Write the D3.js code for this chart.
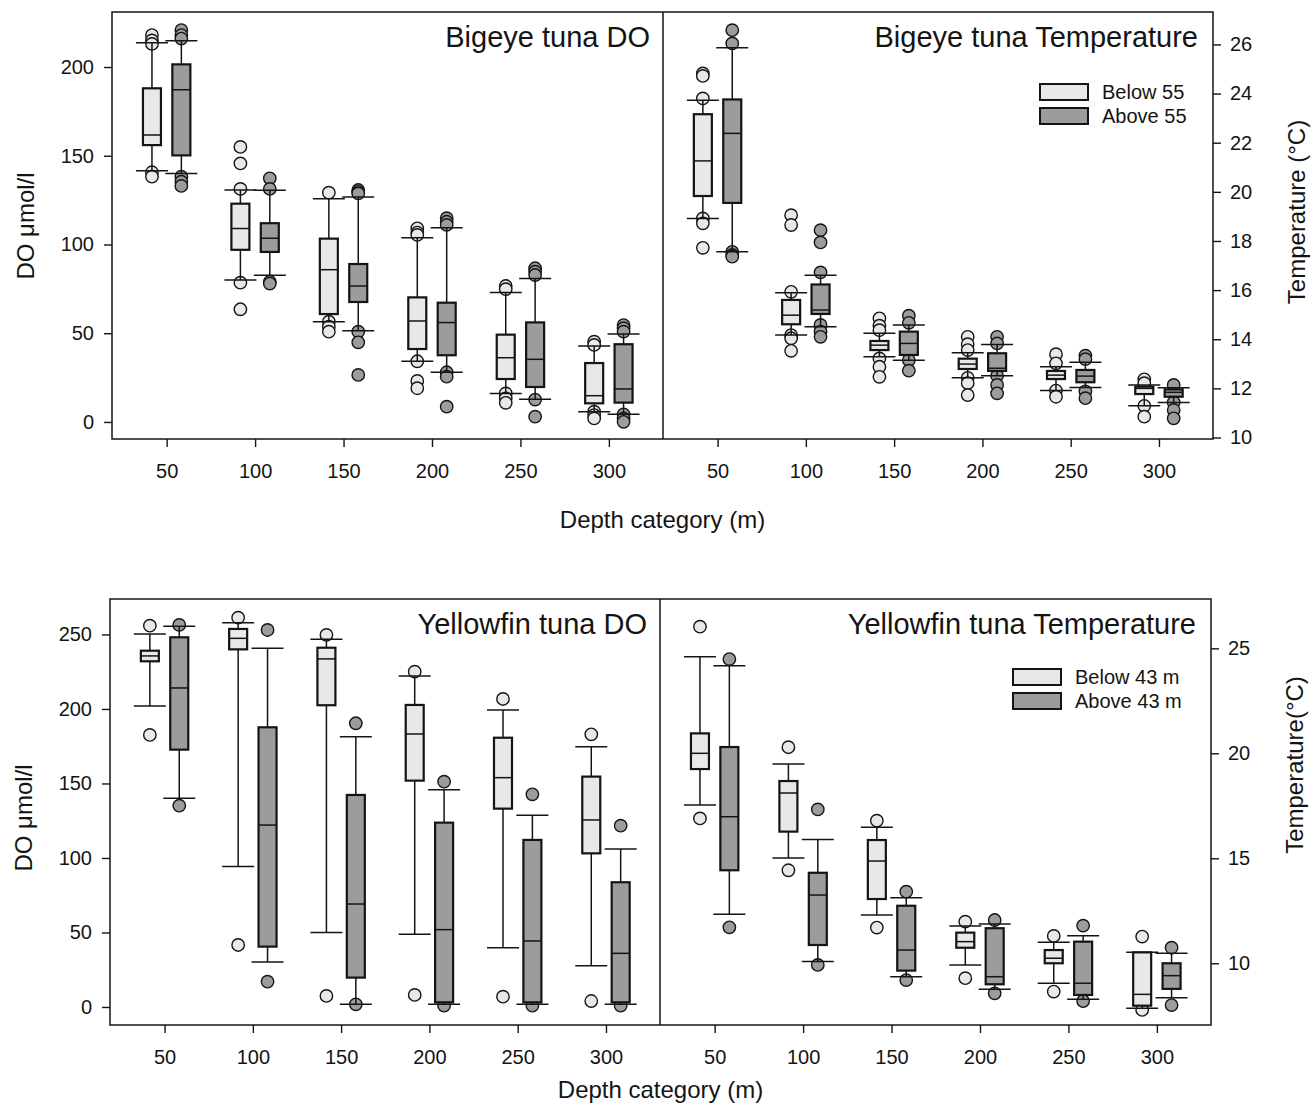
<!DOCTYPE html>
<html>
<head>
<meta charset="utf-8">
<script src="https://cdn.jsdelivr.net/npm/d3@7"></script>
<style>
  body { margin: 0; background: #fff; }
  svg { font-family: "Liberation Sans", Arial, sans-serif; }
</style>
</head>
<body>
<div id="chart"></div>
<script>
// depth categories (m)
const depths = [50, 100, 150, 200, 250, 300];

// box stats per depth: [lower whisker, q1, median, q3, upper whisker]
const bigeyeDoBelow = [
  [141.6, 156, 161.7, 188, 213.7], [80, 97, 109, 123, 130.7], [56.5, 60.8, 85.8, 103.3, 125.8],
  [34.2, 41.1, 56.9, 70.2, 103.8], [16.1, 24.2, 36.2, 49.2, 72.9], [5.8, 10.5, 14.8, 33.2, 42.8]
];
const bigeyeDoBelowOut = [
  [218, 215, 213, 140.7, 138.2], [155, 145.7, 131.3, 78.5, 63.5], [129.2, 56.5, 53.7, 50.9],
  [109.1, 106.7, 105.4, 34.2, 23.1, 19.0], [76.6, 74.8, 16.1, 13.3, 10.8], [45.2, 43.4, 5.8, 3.9, 2.0]
];
const bigeyeDoAbove = [
  [140, 150.2, 187.2, 201.5, 214.8], [82.6, 95.8, 103.5, 112, 130.5], [51.4, 67.6, 76.6, 89, 126.8],
  [28, 37.6, 56, 67.2, 109.5], [12.8, 19.7, 35.3, 56.1, 80.9], [4.3, 10.9, 18.6, 43.8, 49.6]
];
const bigeyeDoAboveOut = [
  [220.8, 218, 216, 138.2, 135.4, 133], [137.3, 131.3, 79, 78], [130.7, 129.7, 128.8, 50.9, 44.9, 26.5],
  [114.8, 112.8, 111, 28, 25.5, 8.6], [86.6, 84.7, 82.8, 12.6, 3], [54.6, 52.8, 50.9, 4.3, 2.0, 0.1]
];

const bigeyeTempBelow = [
  [18.92, 19.83, 21.26, 23.16, 23.73], [14.17, 14.61, 14.98, 15.60, 15.89], [13.29, 13.56, 13.76, 13.93, 14.24],
  [12.43, 12.79, 12.99, 13.21, 13.45], [11.91, 12.38, 12.54, 12.71, 12.88], [11.29, 11.77, 12.00, 12.07, 12.14]
];
const bigeyeTempBelowOut = [
  [24.82, 24.72, 23.80, 18.92, 18.72, 17.72], [19.05, 18.65, 15.93, 14.17, 14.04, 13.53],
  [14.85, 14.55, 14.37, 13.22, 12.88, 12.47], [14.10, 13.80, 13.56, 12.43, 12.21, 11.73],
  [13.39, 13.02, 11.91, 11.66], [12.37, 12.21, 11.29, 10.85]
];
const bigeyeTempAbove = [
  [17.56, 19.55, 22.38, 23.76, 25.86], [14.51, 15.03, 15.19, 16.23, 16.61], [13.15, 13.36, 13.83, 14.31, 14.58],
  [12.51, 12.71, 12.82, 13.43, 13.79], [12.04, 12.25, 12.50, 12.75, 13.06], [11.43, 11.66, 11.84, 11.96, 12.03]
];
const bigeyeTempAboveOut = [
  [26.58, 26.04, 17.56, 17.43, 17.36], [18.44, 17.94, 16.72, 14.58, 14.31, 14.10], [14.96, 14.67, 13.15, 12.72],
  [14.10, 13.83, 12.51, 12.14, 11.80], [13.33, 13.19, 11.88, 11.60], [12.14, 11.43, 11.12, 10.78]
];

const yellowfinDoBelow = [
  [202, 232, 235.6, 239.1, 250.3], [94.2, 240, 247.4, 253.7, 257.9], [49.9, 202.5, 233.6, 241.1, 246.8],
  [48.8, 151.9, 183.2, 202.7, 222.1], [39.8, 133.1, 153.9, 180.7, 199.3], [27.7, 103.1, 125.5, 154.6, 174.7]
];
const yellowfinDoBelowOut = [[255.9, 182.6], [261.3, 41.6], [249.7, 7.4], [225, 8.1], [206.7, 6.9], [183, 4.0]];
const yellowfinDoAbove = [
  [140.1, 172.7, 214.1, 248.1, 255.5], [30.2, 40.5, 122.1, 187.7, 240.8], [1.8, 19.7, 69.1, 142.3, 181.4],
  [1.8, 3.1, 51.9, 123.7, 145.8], [1.8, 3.1, 44.3, 112.1, 128.6], [1.8, 3.1, 36, 83.7, 106]
];
const yellowfinDoAboveOut = [[256.4, 135.1], [253, 17], [190.4, 1.8], [151.2, 0.9], [142.7, 0.9], [121.7, 0.9]];

const yellowfinTempBelow = [
  [17.54, 19.25, 20.0, 20.95, 24.60], [15.01, 16.27, 18.11, 18.68, 19.49], [12.30, 13.06, 14.87, 15.87, 16.48],
  [9.92, 10.74, 11.03, 11.46, 11.78], [9.05, 10.0, 10.24, 10.63, 11.0], [7.86, 7.98, 8.52, 10.52, 10.52]
];
const yellowfinTempBelowOut = [[26.03, 16.90], [20.29, 14.43], [16.79, 11.70], [11.98, 9.29], [11.30, 8.65], [11.27, 7.78]];
const yellowfinTempAbove = [
  [12.33, 14.43, 16.98, 20.30, 24.17], [10.08, 10.87, 13.25, 14.31, 15.90], [9.36, 9.65, 10.63, 12.74, 13.12],
  [8.76, 9.0, 9.36, 11.67, 11.87], [8.29, 8.49, 9.05, 11.03, 11.31], [8.36, 8.78, 9.41, 10.0, 10.48]
];
const yellowfinTempAboveOut = [[24.49, 11.71], [17.33, 9.92], [13.41, 9.20], [12.06, 8.57], [11.79, 8.2], [10.74, 8.01]];

const doTicksTop = [0, 50, 100, 150, 200];
const tempTicksTop = [10, 12, 14, 16, 18, 20, 22, 24, 26];
const doTicksBottom = [0, 50, 100, 150, 200, 250];
const tempTicksBottom = [10, 15, 20, 25];

const lightFill = "#e7e8e8", darkFill = "#9b9c9c", ink = "#141414";

const svg = d3.select("#chart").append("svg")
  .attr("width", 1311)
  .attr("height", 1113);

// draw one set of boxes (one colour) for a panel
function drawBoxes(g, x, y, stats, outs, offset, fill) {
  const rows = stats.map((s, i) => ({ d: depths[i], lo: s[0], q1: s[1], med: s[2], q3: s[3], hi: s[4] }));
  const pts = outs.flatMap((arr, i) => arr.map(v => ({ d: depths[i], v: v })));
  const cx = d => x(d.d) + offset;

  g.append("g").selectAll("circle")
    .data(pts)
    .join("circle")
    .attr("cx", cx)
    .attr("cy", d => y(d.v))
    .attr("r", 6.2)
    .attr("fill", fill)
    .attr("stroke", ink)
    .attr("stroke-width", 1.4);

  g.append("g").selectAll("line")
    .data(rows)
    .join("line")
    .attr("x1", cx).attr("x2", cx)
    .attr("y1", d => y(d.lo)).attr("y2", d => y(d.hi))
    .attr("stroke", ink).attr("stroke-width", 1.5);

  const caps = rows.flatMap(r => [{ d: r.d, v: r.lo }, { d: r.d, v: r.hi }]);
  g.append("g").selectAll("line")
    .data(caps)
    .join("line")
    .attr("x1", d => cx(d) - 16).attr("x2", d => cx(d) + 16)
    .attr("y1", d => y(d.v)).attr("y2", d => y(d.v))
    .attr("stroke", ink).attr("stroke-width", 1.5);

  g.append("g").selectAll("rect")
    .data(rows)
    .join("rect")
    .attr("x", d => cx(d) - 9)
    .attr("width", 18)
    .attr("y", d => y(d.q3))
    .attr("height", d => y(d.q1) - y(d.q3))
    .attr("fill", fill)
    .attr("stroke", ink).attr("stroke-width", 2.2);

  g.append("g").selectAll("line")
    .data(rows)
    .join("line")
    .attr("x1", d => cx(d) - 9).attr("x2", d => cx(d) + 9)
    .attr("y1", d => y(d.med)).attr("y2", d => y(d.med))
    .attr("stroke", ink).attr("stroke-width", 1.5);
}

function styleAxis(sel) {
  sel.select(".domain").remove();
  sel.selectAll("line").attr("stroke", ink).attr("stroke-width", 1.4);
  sel.selectAll("text").attr("font-size", 20).attr("fill", ink).attr("font-family", "Liberation Sans, Arial, sans-serif");
}

function drawFigure(o) {
  const g = svg.append("g");
  const xL = d3.scaleLinear().domain([19.1, 330.6]).range([o.left, o.mid]);
  const xR = d3.scaleLinear().domain([19.1, 330.6]).range([o.mid, o.right]);
  const yL = d3.scaleLinear().domain(o.doDomain).range([o.bottom, o.top]);
  const yR = d3.scaleLinear().domain(o.tempDomain).range([o.bottom, o.top]);

  drawBoxes(g, xL, yL, o.doBelow, o.doBelowOut, -14.7, lightFill);
  drawBoxes(g, xL, yL, o.doAbove, o.doAboveOut, 14.7, darkFill);
  drawBoxes(g, xR, yR, o.tempBelow, o.tempBelowOut, -14.7, lightFill);
  drawBoxes(g, xR, yR, o.tempAbove, o.tempAboveOut, 14.7, darkFill);

  // frame + divider
  g.append("rect")
    .attr("x", o.left).attr("y", o.top)
    .attr("width", o.right - o.left).attr("height", o.bottom - o.top)
    .attr("fill", "none").attr("stroke", ink).attr("stroke-width", 1.5);
  g.append("line")
    .attr("x1", o.mid).attr("x2", o.mid).attr("y1", o.top).attr("y2", o.bottom)
    .attr("stroke", ink).attr("stroke-width", 1.5);

  g.append("g").attr("transform", `translate(${o.left},0)`)
    .call(d3.axisLeft(yL).tickValues(o.doTicks).tickSize(8).tickPadding(10))
    .call(styleAxis);
  g.append("g").attr("transform", `translate(${o.right},0)`)
    .call(d3.axisRight(yR).tickValues(o.tempTicks).tickSize(8).tickPadding(9))
    .call(styleAxis);
  g.append("g").attr("transform", `translate(0,${o.bottom})`)
    .call(d3.axisBottom(xL).tickValues(depths).tickSize(8).tickPadding(17))
    .call(styleAxis);
  g.append("g").attr("transform", `translate(0,${o.bottom})`)
    .call(d3.axisBottom(xR).tickValues(depths).tickSize(8).tickPadding(17))
    .call(styleAxis);

  // panel titles
  g.append("text").attr("x", o.mid - 13).attr("y", o.top + 35)
    .attr("text-anchor", "end").attr("font-size", 29).attr("fill", ink).text(o.doTitle);
  g.append("text").attr("x", o.right - 15).attr("y", o.top + 35)
    .attr("text-anchor", "end").attr("font-size", 29).attr("fill", ink).text(o.tempTitle);

  // legend
  const leg = g.append("g");
  [[lightFill, o.legend[0]], [darkFill, o.legend[1]]].forEach((it, i) => {
    leg.append("rect")
      .attr("x", o.legX).attr("y", o.legY + i * 24)
      .attr("width", 48).attr("height", 16)
      .attr("fill", it[0]).attr("stroke", ink).attr("stroke-width", 2);
    leg.append("text")
      .attr("x", o.legX + 62).attr("y", o.legY + i * 24 + 15)
      .attr("font-size", 20).attr("fill", ink).text(it[1]);
  });

  // axis titles
  g.append("text")
    .attr("x", (o.left + o.right) / 2).attr("y", o.bottom + o.xTitleDy)
    .attr("text-anchor", "middle").attr("font-size", 24).attr("fill", ink)
    .text("Depth category (m)");
  g.append("text")
    .attr("transform", `translate(${o.left - 78},${o.doTitleY}) rotate(-90)`)
    .attr("text-anchor", "middle").attr("font-size", 24).attr("fill", ink)
    .text("DO \u03bcmol/l");
  g.append("text")
    .attr("transform", `translate(${o.right + 92},${o.tempTitleY}) rotate(-90)`)
    .attr("text-anchor", "middle").attr("font-size", 24).attr("fill", ink)
    .text(o.tempLabel);
}

drawFigure({
  left: 112, mid: 663, right: 1213, top: 12, bottom: 439,
  doDomain: [-9.6, 231], tempDomain: [9.94, 27.32],
  doTicks: doTicksTop, tempTicks: tempTicksTop,
  doBelow: bigeyeDoBelow, doBelowOut: bigeyeDoBelowOut,
  doAbove: bigeyeDoAbove, doAboveOut: bigeyeDoAboveOut,
  tempBelow: bigeyeTempBelow, tempBelowOut: bigeyeTempBelowOut,
  tempAbove: bigeyeTempAbove, tempAboveOut: bigeyeTempAboveOut,
  doTitle: "Bigeye tuna DO", tempTitle: "Bigeye tuna Temperature",
  legend: ["Below 55", "Above 55"], legX: 1040, legY: 84,
  xTitleDy: 89, doTitleY: 226, tempTitleY: 212, tempLabel: "Temperature (\u00b0C)"
});

drawFigure({
  left: 110, mid: 660, right: 1211, top: 599, bottom: 1025,
  doDomain: [-12.1, 273.8], tempDomain: [7.06, 27.35],
  doTicks: doTicksBottom, tempTicks: tempTicksBottom,
  doBelow: yellowfinDoBelow, doBelowOut: yellowfinDoBelowOut,
  doAbove: yellowfinDoAbove, doAboveOut: yellowfinDoAboveOut,
  tempBelow: yellowfinTempBelow, tempBelowOut: yellowfinTempBelowOut,
  tempAbove: yellowfinTempAbove, tempAboveOut: yellowfinTempAboveOut,
  doTitle: "Yellowfin tuna DO", tempTitle: "Yellowfin tuna Temperature",
  legend: ["Below 43 m", "Above 43 m"], legX: 1013, legY: 669,
  xTitleDy: 73, doTitleY: 818, tempTitleY: 765, tempLabel: "Temperature(\u00b0C)"
});
</script>
</body>
</html>
